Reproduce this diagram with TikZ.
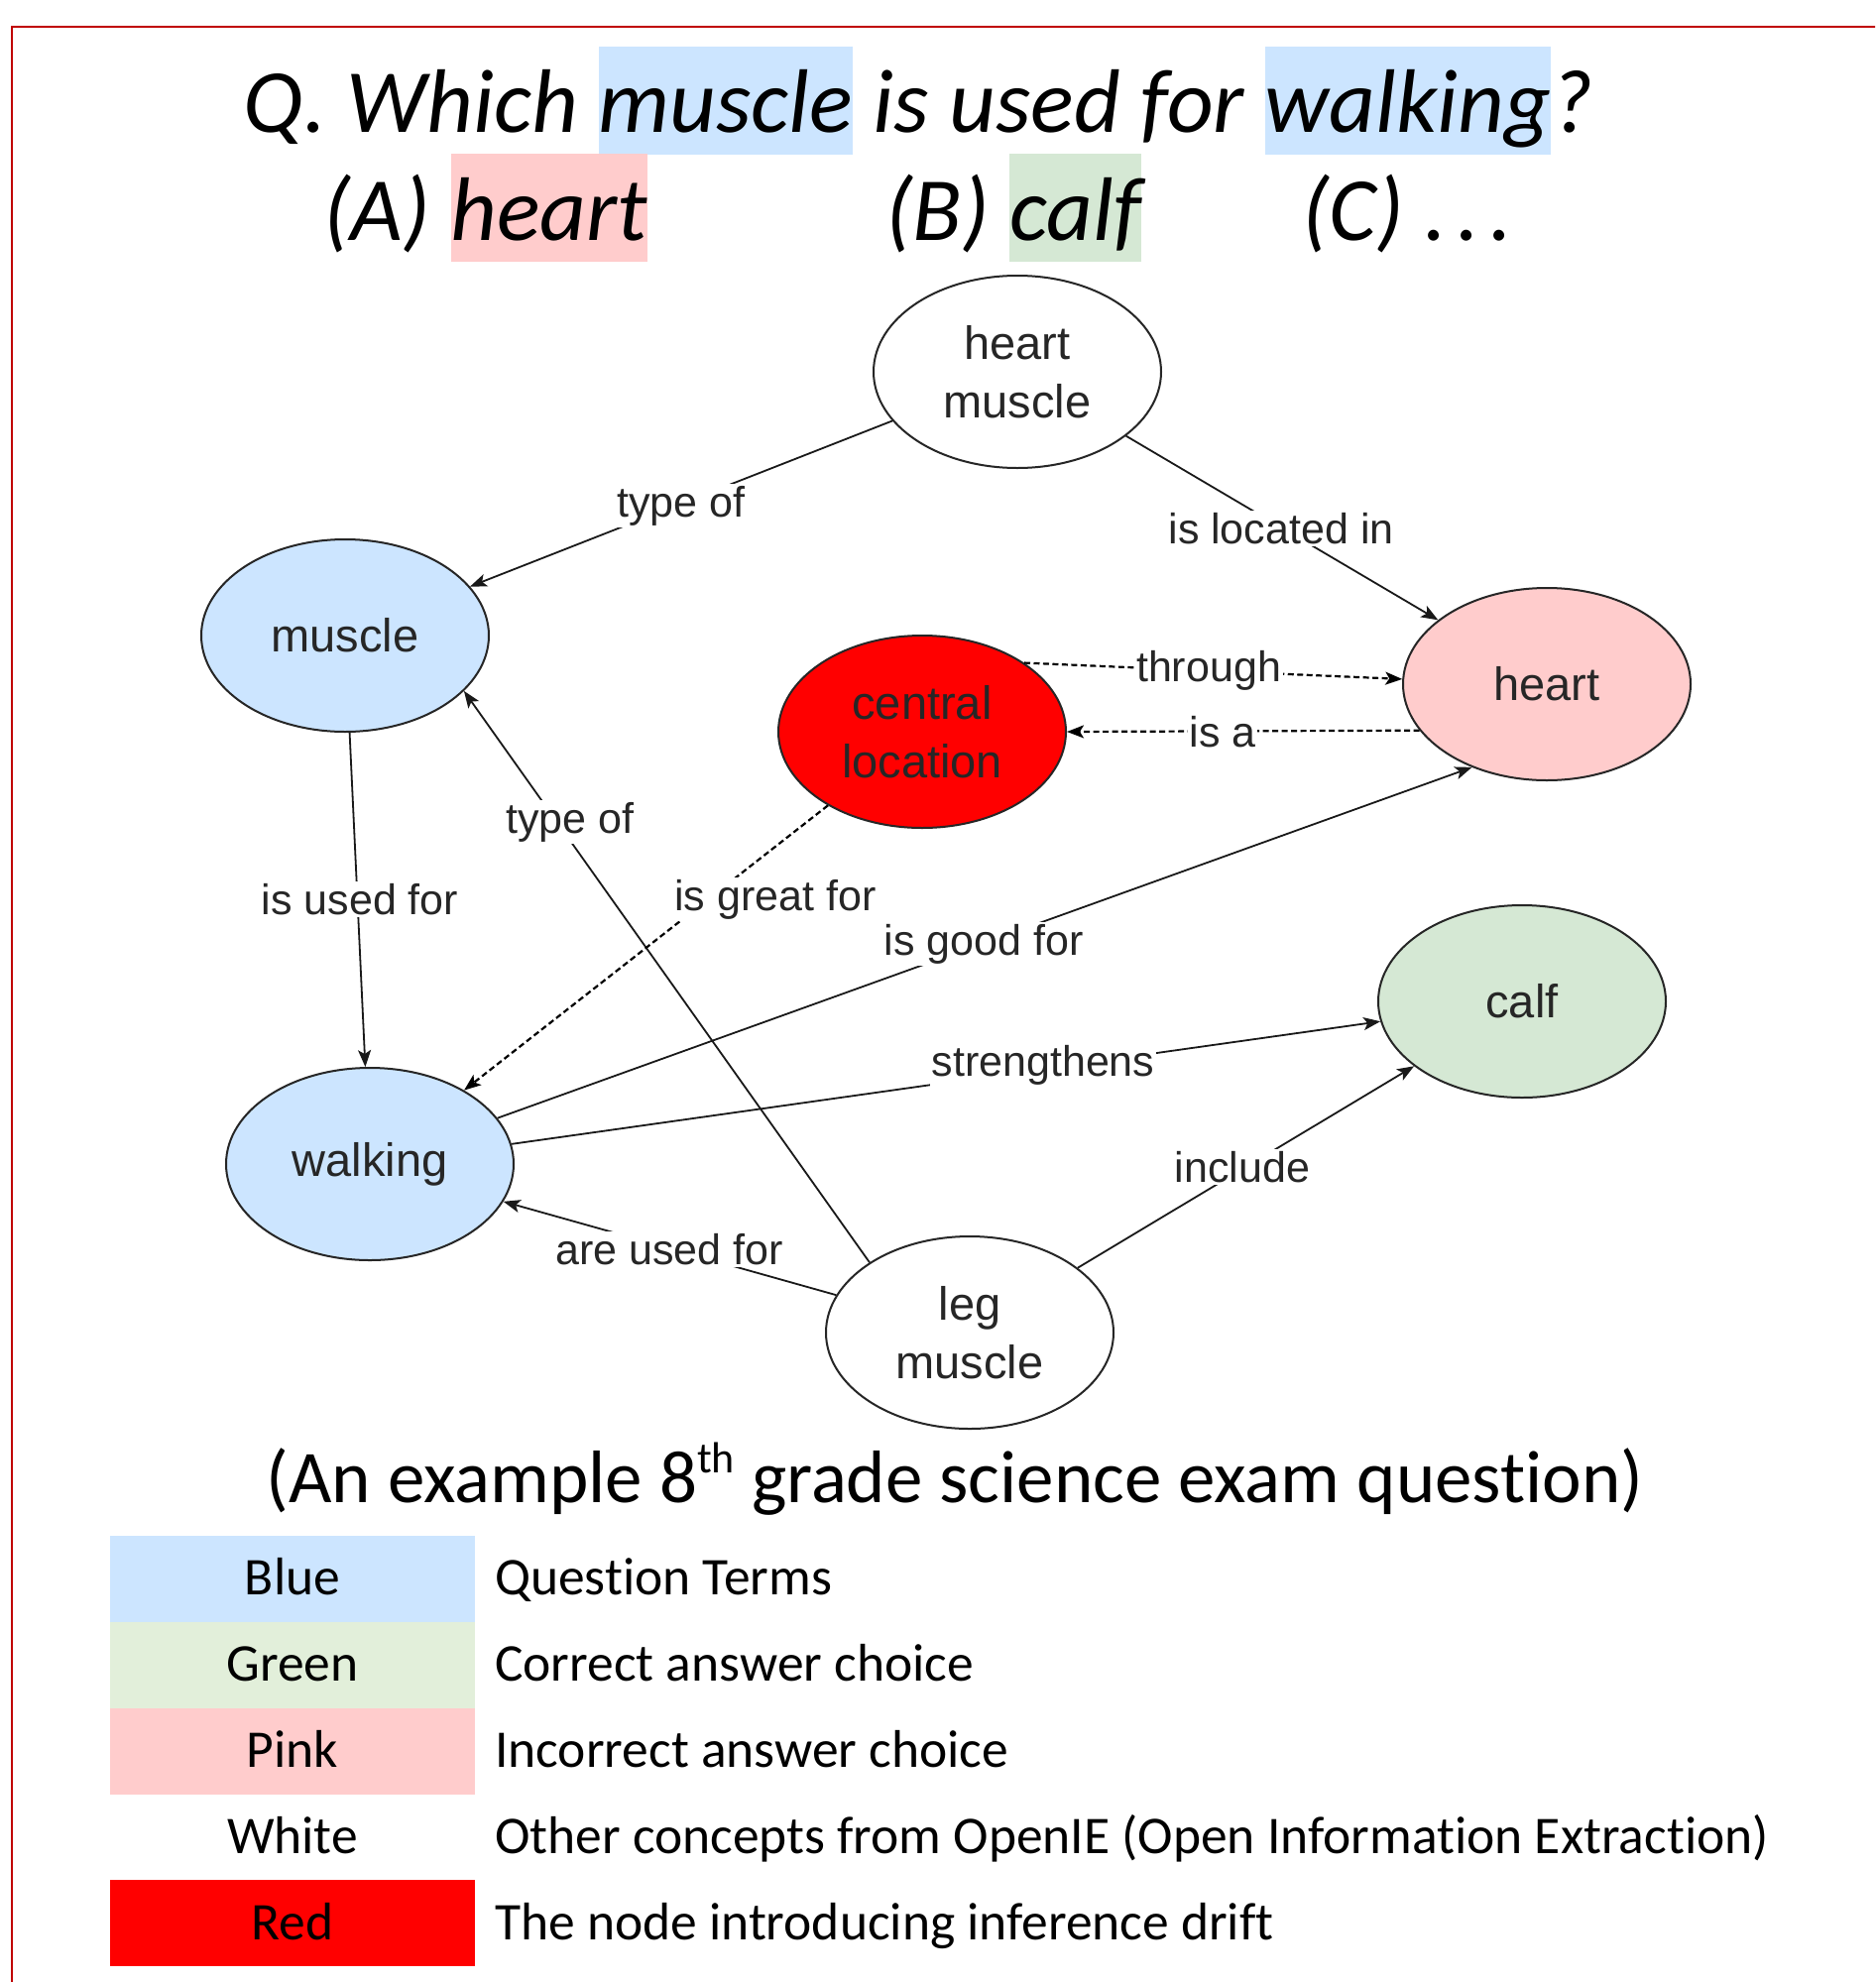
\documentclass[tikz,border=0pt]{standalone}
\usepackage{fontspec}
\setmainfont{Carlito}[Ligatures=NoCommon]
\newfontfamily\arialf{Liberation Sans}
\usetikzlibrary{arrows.meta,shapes.geometric}
\definecolor{qblue}{HTML}{CCE5FF}
\definecolor{qpink}{HTML}{FFCCCC}
\definecolor{qgreen}{HTML}{D5E8D4}
\definecolor{lgreen}{HTML}{E2EFDA}
\definecolor{framered}{HTML}{C00000}
\definecolor{nodered}{HTML}{FF0000}
\newcommand\hlboxA[2]{{\setlength\fboxsep{0pt}\colorbox{#1}{\rule[-23pt]{0pt}{109pt}#2}}}
\newcommand\hlboxB[2]{{\setlength\fboxsep{0pt}\colorbox{#1}{\rule[-22pt]{0pt}{109pt}#2}}}
\begin{document}
\begin{tikzpicture}[x=1pt,y=-1pt,
  ell/.style={ellipse, draw=black!85, line width=2pt, minimum width=290pt, minimum height=194pt,
    inner sep=0pt, font=\arialf\fontsize{47}{59}\selectfont, text=black!85, align=center},
  lab/.style={fill=white, inner sep=2pt, font=\arialf\fontsize{43}{50}\selectfont, text=black!85},
  conn/.style={line width=1.8pt, draw=black!90, -{Stealth[length=17pt,width=13pt,inset=4pt]}},
  dsh/.style={dash pattern=on 6pt off 3.5pt, line width=2.2pt, draw=black},
  qfont/.style={font=\itshape\fontsize{91}{104}\selectfont},
  legfont/.style={font=\fontsize{53.5}{62}\selectfont}
]
\clip (0,0) rectangle (1891,1999);
\useasboundingbox (0,0) rectangle (1891,1999);
\fill[white] (0,0) rectangle (1891,1999);
\draw[framered, line width=2.5pt] (1900,27) -- (12,27) -- (12,2010);

% question
\node[qfont, anchor=base, inner sep=0pt] (q1) at (926,133)
  {Q. Which \hlboxA{qblue}{muscle} is used for \hlboxA{qblue}{walking}?};
\node[qfont, anchor=base west, inner sep=0pt] (qa) at (326,242) {(A) \hlboxB{qpink}{heart}};
\node[qfont, anchor=base west, inner sep=0pt] (qb) at (893,242) {(B) \hlboxB{qgreen}{calf}};
\node[qfont, anchor=base west, inner sep=0pt] (qc) at (1313,242) {(C) .\kern10pt.\kern10pt.};

% graph nodes
\node[ell] (hm) at (1026,375) {heart\\muscle};
\node[ell, fill=qblue] (mu) at (348,641) {muscle};
\node[ell, fill=qpink] (he) at (1560,690) {heart};
\node[ell, fill=nodered] (cl) at (930,738) {central\\location};
\node[ell, fill=qgreen] (ca) at (1535,1010) {calf};
\node[ell, fill=qblue] (wa) at (373,1174) {walking};
\node[ell] (lm) at (978,1344) {leg\\muscle};

% connectors
\draw[conn] (hm) -- (mu);
\draw[conn] (hm) -- (he);
\draw[conn,dsh] (cl.34) -- (he.178);
\draw[conn,dsh] (he.200) -- (cl.east);
\draw[conn] (lm.145) -- (mu.-25);
\draw[conn] (mu) -- (wa);
\draw[conn,dsh] (cl) -- (wa);
\draw[conn] (wa) -- (he.228);
\draw[conn] (wa) -- (ca);
\draw[conn] (lm) -- (ca);
\draw[conn] (lm) -- (wa);

% connector labels
\node[lab] (l1) at (687,510) {type of};
\node[lab] (l2) at (1292,533) {is located in};
\node[lab] (l3) at (1219,676) {through};
\node[lab] (l4) at (1233,738) {is a};
\node[lab] (l5) at (575,829) {type of};
\node[lab] (l6) at (363,907) {is used for};
\node[lab] (l7) at (782,907) {is great for};
\node[lab] (l8) at (992,952) {is good for};
\node[lab] (l9) at (1052,1074) {strengthens};
\node[lab] (l10) at (1253,1177) {include};
\node[lab] (l11) at (675,1260) {are used for};

% caption
\node[font=\fontsize{75}{90}\selectfont, anchor=base, inner sep=0pt] (cap) at (963,1515)
  {(An example 8{\fontsize{44}{44}\selectfont\raisebox{30pt}{th}} grade science exam question)};

% legend
\fill[qblue] (111,1549) rectangle (479,1636);
\fill[lgreen] (111,1636) rectangle (479,1723);
\fill[qpink] (111,1723) rectangle (479,1810);
\fill[nodered] (111,1896) rectangle (479,1983);
\node[legfont, anchor=base, inner sep=0pt] (k1) at (295,1608) {Blue};
\node[legfont, anchor=base, inner sep=0pt] (k2) at (295,1695) {Green};
\node[legfont, anchor=base, inner sep=0pt] (k3) at (295,1782) {Pink};
\node[legfont, anchor=base, inner sep=0pt] (k4) at (295,1869) {White};
\node[legfont, anchor=base, inner sep=0pt] (k5) at (295,1956) {Red};
\node[legfont, anchor=base west, inner sep=0pt] (d1) at (499,1608) {Question Terms};
\node[legfont, anchor=base west, inner sep=0pt] (d2) at (499,1695) {Correct answer choice};
\node[legfont, anchor=base west, inner sep=0pt] (d3) at (499,1782) {Incorrect answer choice};
\node[legfont, anchor=base west, inner sep=0pt] (d4) at (499,1869) {Other concepts from OpenIE (Open Information Extraction)};
\node[legfont, anchor=base west, inner sep=0pt] (d5) at (499,1956) {The node introducing inference drift};
\end{tikzpicture}
\end{document}
